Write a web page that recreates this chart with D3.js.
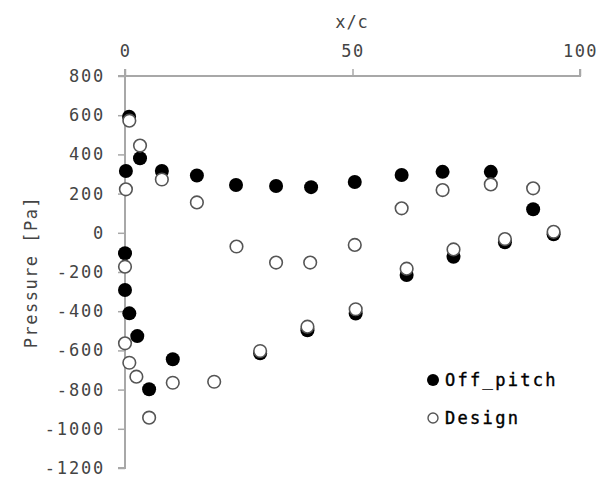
<!DOCTYPE html>
<html>
<head>
<meta charset="utf-8">
<script src="https://cdn.jsdelivr.net/npm/d3@7"></script>
<style>
  html, body { margin: 0; padding: 0; background: #fff; }
  svg { display: block; }
  text { font-family: "DejaVu Sans Mono", monospace; }
</style>
</head>
<body>
<svg id="chart" width="607" height="479"></svg>
<script>
// ---- data ----
const offPitchX = [0.9, 3.3, 0.2, 8.1, 15.8, 24.4, 33.2, 40.9, 50.5, 60.8, 69.8, 80.4, 89.7, 94.2, 83.5, 72.2, 61.9, 50.7, 40.1, 29.7, 10.5, 5.3, 2.7, 0.95, 0.0, 0.0];
const offPitchY = [592, 380, 315, 315, 292, 244, 239, 233, 259, 295, 311, 311, 120, -8, -48, -122, -215, -412, -497, -615, -645, -798, -527, -411, -292, -104];
const designX = [0.95, 3.3, 0.2, 8.1, 15.8, 24.5, 33.2, 40.7, 50.5, 60.8, 69.8, 80.4, 89.7, 94.2, 83.5, 72.2, 61.9, 50.7, 40.1, 29.7, 19.6, 10.5, 5.3, 2.5, 0.95, 0.0, 0.0];
const designY = [572, 445, 222, 272, 155, -70, -152, -152, -62, 125, 218, 247, 227, 5, -32, -85, -183, -390, -479, -603, -760, -765, -943, -734, -663, -564, -173];
const xTicks = [0, 50, 100];
const yTicks = [800, 600, 400, 200, 0, -200, -400, -600, -800, -1000, -1200];
const seriesNames = ["Off_pitch", "Design"];
const xTitle = "x/c";
const yTitle = "Pressure [Pa]";

// ---- layout ----
const svg = d3.select("#chart");
const x = d3.scaleLinear().domain([0, 100]).range([125, 580]);
const y = d3.scaleLinear().domain([-1200, 800]).range([468, 76]);
const axisColor = "#a8a8a8";
const textColor = "#444";

// top x axis
const xAxis = svg.append("g").attr("transform", `translate(0,${y(800)})`)
  .call(d3.axisTop(x).tickValues(xTicks).tickSize(7).tickPadding(12).tickFormat(d3.format("d")));
xAxis.select(".domain").attr("stroke", axisColor).attr("stroke-width", 2).attr("d", `M${x(0)},-7V0H${x(100)}V-7`);
xAxis.selectAll(".tick line").attr("stroke", axisColor).attr("stroke-width", 1.5);
xAxis.selectAll(".tick text").attr("fill", textColor).style("font-size", "17px")
  .style("font-family", "DejaVu Sans Mono").attr("letter-spacing", "1.5px");

// left y axis
const yAxis = svg.append("g").attr("transform", `translate(${x(0)},0)`)
  .call(d3.axisLeft(y).tickValues(yTicks).tickSize(7).tickPadding(13).tickFormat(d3.format("d")));
yAxis.select(".domain").attr("stroke", axisColor).attr("stroke-width", 2).attr("d", `M-7,${y(800)}H0V${y(-1200)}H-7`);
yAxis.selectAll(".tick line").attr("stroke", axisColor).attr("stroke-width", 1.5);
yAxis.selectAll(".tick text").attr("fill", textColor).style("font-size", "17px")
  .style("font-family", "DejaVu Sans Mono").attr("letter-spacing", "1.8px")
  .text(d => d3.format("d")(d).replace("−", "-"));

// titles
svg.append("text").attr("x", 352).attr("y", 28).attr("text-anchor", "middle")
  .attr("fill", textColor).style("font-size", "17px").attr("letter-spacing", "1px").text(xTitle);
svg.append("text").attr("transform", "translate(37,272) rotate(-90)").attr("text-anchor", "middle")
  .attr("fill", textColor).style("font-size", "17px").attr("letter-spacing", "1.5px").text(yTitle);

// points
const off = offPitchX.map((v, i) => [v, offPitchY[i]]);
const des = designX.map((v, i) => [v, designY[i]]);
svg.append("g").selectAll("circle").data(off).join("circle")
  .attr("cx", d => x(d[0])).attr("cy", d => y(d[1])).attr("r", 7)
  .attr("fill", "#000");
svg.append("g").selectAll("circle").data(des).join("circle")
  .attr("cx", d => x(d[0])).attr("cy", d => y(d[1])).attr("r", 6.3)
  .attr("fill", "#fff").attr("stroke", "#555").attr("stroke-width", 1.6);

// legend
const leg = svg.append("g");
const legY = [380, 418];
leg.append("circle").attr("cx", 433).attr("cy", legY[0]).attr("r", 6).attr("fill", "#000");
leg.append("circle").attr("cx", 433).attr("cy", legY[1]).attr("r", 5).attr("fill", "#fff")
  .attr("stroke", "#555").attr("stroke-width", 1.4);
seriesNames.forEach((n, i) => {
  leg.append("text").attr("x", 445).attr("y", legY[i]).attr("dy", "0.36em")
    .attr("fill", "#000").attr("stroke", "#000").attr("stroke-width", 0.4)
    .style("font-size", "17px").attr("letter-spacing", "2.3px")
    .text(n);
});
</script>
</body>
</html>
